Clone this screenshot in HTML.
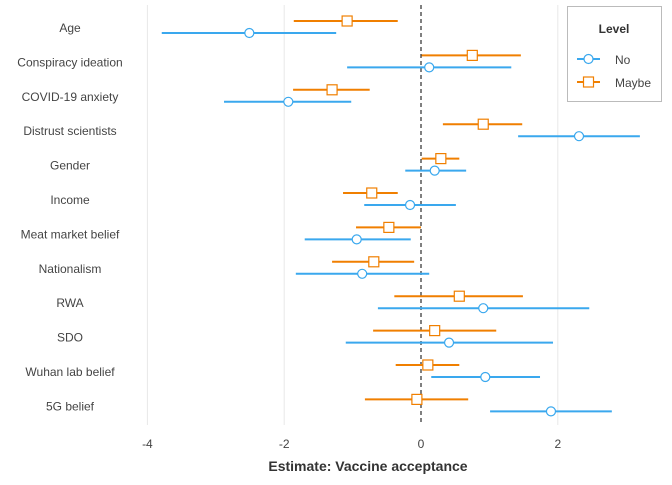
<!DOCTYPE html>
<html><head><meta charset="utf-8"><style>
body{margin:0;background:#fff;font-family:"Liberation Sans",sans-serif}
</style></head><body>
<svg id="c" width="672" height="480" xmlns="http://www.w3.org/2000/svg" font-family="Liberation Sans, sans-serif"></svg>
<script>
const categories=["Age","Conspiracy ideation","COVID-19 anxiety","Distrust scientists","Gender","Income","Meat market belief","Nationalism","RWA","SDO","Wuhan lab belief","5G belief"];
const noEst=[-2.51,0.12,-1.94,2.31,0.20,-0.16,-0.94,-0.86,0.91,0.41,0.94,1.90];
const noLo=[-3.79,-1.08,-2.88,1.42,-0.23,-0.83,-1.70,-1.83,-0.63,-1.10,0.15,1.01];
const noHi=[-1.24,1.32,-1.02,3.20,0.66,0.51,-0.15,0.12,2.46,1.93,1.74,2.79];
const mayEst=[-1.08,0.75,-1.30,0.91,0.29,-0.72,-0.47,-0.69,0.56,0.20,0.10,-0.06];
const mayLo=[-1.86,0.01,-1.87,0.32,0.01,-1.14,-0.95,-1.30,-0.39,-0.70,-0.37,-0.82];
const mayHi=[-0.34,1.46,-0.75,1.48,0.56,-0.34,0.00,-0.10,1.49,1.10,0.56,0.69];
const xTicks=[-4,-2,0,2];
const svg=document.getElementById('c');const NS="http://www.w3.org/2000/svg";
const x=v=>421+v*68.4;const y=i=>27+i*34.4;
function el(t,a,p){const e=document.createElementNS(NS,t);for(const k in a)e.setAttribute(k,a[k]);(p||svg).appendChild(e);return e;}
xTicks.forEach(t=>{if(t!==0){const g=el('line',{x1:x(t),x2:x(t),y1:5,y2:425,stroke:'#e8e8e8','stroke-width':1});

}
const tl=el('text',{x:x(t),y:448,'text-anchor':'middle','font-size':12,fill:'#444'});tl.textContent=t;

});
const z=el('line',{x1:x(0),x2:x(0),y1:5,y2:425,stroke:'#000','stroke-dasharray':'4,3'});


categories.forEach((c,i)=>{const t=el('text',{x:70,y:y(i)+5,'text-anchor':'middle','font-size':12,fill:'#444'});t.textContent=c;


const g=el('g',{});


const yb=y(i)+6,yo=y(i)-6;
el('line',{x1:x(noLo[i]),x2:x(noHi[i]),y1:yb,y2:yb,stroke:'#3aa8ee','stroke-width':2},g);
const cc=el('circle',{cx:x(noEst[i]),cy:yb,r:4.5,fill:'#fff',stroke:'#3aa8ee','stroke-width':1.2},g);


el('line',{x1:x(mayLo[i]),x2:x(mayHi[i]),y1:yo,y2:yo,stroke:'#f07f00','stroke-width':2},g);
const r=el('rect',{x:x(mayEst[i])-5,y:yo-5,width:10,height:10,fill:'#fff',stroke:'#f07f00','stroke-width':1.2},g);

});
const tt=el('text',{x:368,y:471,'text-anchor':'middle','font-size':14,'font-weight':'bold',fill:'#333'});tt.textContent="Estimate: Vaccine acceptance";


const lg=el('g',{});


el('rect',{x:567.5,y:6.5,width:94,height:95,fill:'#fff',stroke:'#bbb'},lg);
const lt=el('text',{x:614,y:33,'text-anchor':'middle','font-size':12,'font-weight':'bold',fill:'#333'},lg);lt.textContent="Level";
el('line',{x1:577,x2:600,y1:59,y2:59,stroke:'#3aa8ee','stroke-width':2},lg);
el('circle',{cx:588.5,cy:59,r:4.5,fill:'#fff',stroke:'#3aa8ee','stroke-width':1.2},lg);
const l1=el('text',{x:615,y:64,'font-size':12,fill:'#444'},lg);l1.textContent="No";


el('line',{x1:577,x2:600,y1:82,y2:82,stroke:'#f07f00','stroke-width':2},lg);
el('rect',{x:583.5,y:77,width:10,height:10,fill:'#fff',stroke:'#f07f00','stroke-width':1.2},lg);
const l2=el('text',{x:615,y:87,'font-size':12,fill:'#444'},lg);l2.textContent="Maybe";


</script>
</body></html>
